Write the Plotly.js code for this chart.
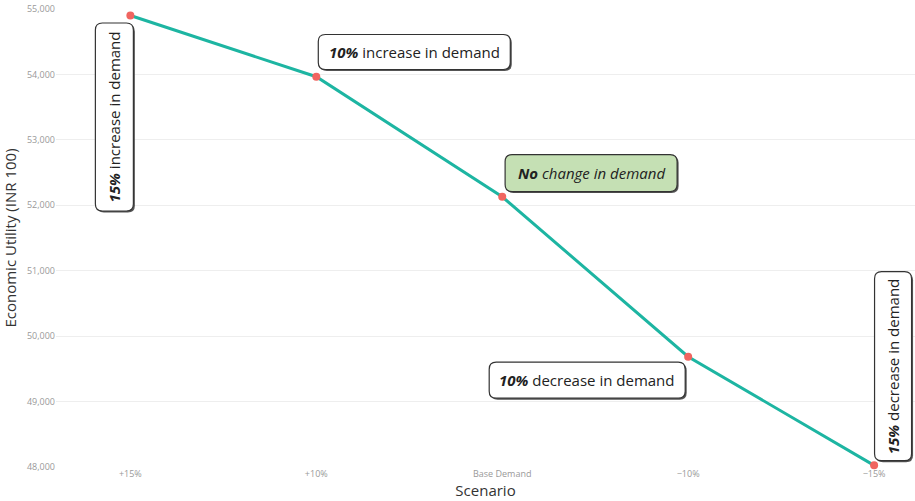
<!DOCTYPE html>
<html>
<head>
<meta charset="utf-8">
<script src="https://cdn.plot.ly/plotly-3.0.1.min.js"></script>
<style>html,body{margin:0;padding:0;background:#fff;}#chart{width:915px;height:501px;}</style>
</head>
<body>
<div id="chart"></div>
<script>
// Data
const scenarios = ["+15%", "+10%", "Base Demand", "\u221210%", "\u221215%"];
const utility = [54900, 53965, 52130, 49685, 48025];
const labelTexts = [
  "<b><i>15%</i></b> increase in demand",
  "<b><i>10%</i></b> increase in demand",
  "<b><i>No</i></b><i> change in demand</i>",
  "<b><i>10%</i></b> decrease in demand",
  "<b><i>15%</i></b> decrease in demand"
];

// Label box placement (style/position)
const boxes = [
  {x: -0.086, y: 53349, w: 38, h: 188, rot: -90, fill: "#ffffff"},
  {x: 1.527, y: 54343, w: 192, h: 35, rot: 0, fill: "#ffffff"},
  {x: 2.478, y: 52492, w: 172, h: 37, rot: 0, fill: "#c5e0b4"},
  {x: 2.457, y: 49327, w: 196, h: 36, rot: 0, fill: "#ffffff"},
  {x: 4.102, y: 49541, w: 37, h: 189, rot: -90, fill: "#ffffff"}
];

function roundRect(w, h, r, dx, dy) {
  const x0 = -w/2 + dx, x1 = w/2 + dx, y0 = -h/2 + dy, y1 = h/2 + dy;
  return `M${x0+r},${y0} L${x1-r},${y0} Q${x1},${y0} ${x1},${y0+r} L${x1},${y1-r} Q${x1},${y1} ${x1-r},${y1} L${x0+r},${y1} Q${x0},${y1} ${x0},${y1-r} L${x0},${y0+r} Q${x0},${y0} ${x0+r},${y0} Z`;
}

const shapes = [];
const annotations = [];
boxes.forEach((b, i) => {
  // shadow
  shapes.push({type: "path", xref: "x", yref: "y", xsizemode: "pixel", ysizemode: "pixel",
    xanchor: b.x, yanchor: b.y, path: roundRect(b.w, b.h, 7, 1.5, -1.5),
    fillcolor: "#555555", line: {width: 0}, layer: "above"});
  shapes.push({type: "path", xref: "x", yref: "y", xsizemode: "pixel", ysizemode: "pixel",
    xanchor: b.x, yanchor: b.y, path: roundRect(b.w, b.h, 7, 0, 0),
    fillcolor: b.fill, line: {color: "#333333", width: 1.2}, layer: "above"});
  annotations.push({x: b.x, y: b.y, xref: "x", yref: "y", text: labelTexts[i],
    showarrow: false, textangle: b.rot,
    font: {family: "Open Sans, Noto Sans, sans-serif", size: 15, color: "#222222"}});
});

const trace = {
  x: scenarios, y: utility, type: "scatter", mode: "lines+markers",
  line: {color: "#1db5a2", width: 3},
  marker: {color: "#f06560", size: 8},
  cliponaxis: false, hoverinfo: "skip"
};

const layout = {
  width: 915, height: 501,
  margin: {l: 56, r: 0, t: 9, b: 34},
  paper_bgcolor: "#ffffff", plot_bgcolor: "#ffffff",
  showlegend: false,
  xaxis: {
    type: "category", categoryorder: "array", categoryarray: scenarios,
    range: [-0.4, 4.22], showgrid: false, zeroline: false, showline: false,
    ticks: "", tickfont: {family: "Open Sans, sans-serif", size: 9, color: "#999999"},
    title: {text: "Scenario", font: {family: "Open Sans, sans-serif", size: 15, color: "#333333"}, standoff: 4}
  },
  yaxis: {
    range: [48000, 55000], dtick: 1000, tick0: 48000, tickformat: ",d",
    showgrid: true, gridcolor: "#eeeeee", gridwidth: 1, zeroline: false, showline: false,
    ticks: "", tickfont: {family: "Open Sans, sans-serif", size: 9, color: "#999999"},
    title: {text: "Economic Utility (INR 100)", font: {family: "Open Sans, sans-serif", size: 15, color: "#333333"}, standoff: 6}
  },
  shapes: shapes,
  annotations: annotations
};

Plotly.newPlot("chart", [trace], layout, {displayModeBar: false, staticPlot: true});
</script>
</body>
</html>
